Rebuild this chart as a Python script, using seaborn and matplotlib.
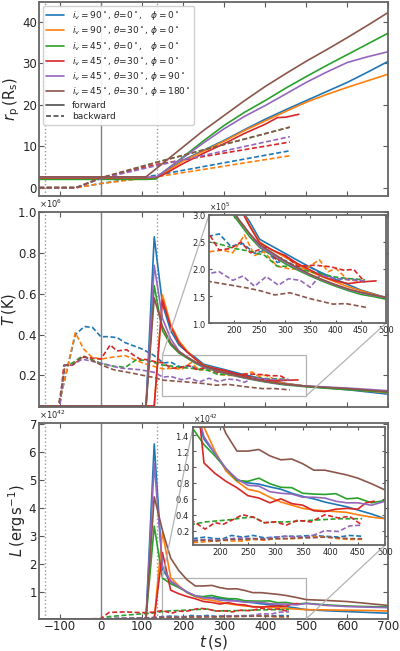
import pandas as pd
import matplotlib
matplotlib.use("Agg")
import matplotlib.pyplot as plt
import seaborn as sns
from matplotlib.lines import Line2D
from mpl_toolkits.axes_grid1.inset_locator import mark_inset

# ---- cases ----
case_labels = [
    r"$i_v=90^\circ$, $\theta$=0$^\circ$,   $\phi=0^\circ$",
    r"$i_v=90^\circ$, $\theta$=30$^\circ$, $\phi=0^\circ$",
    r"$i_v=45^\circ$, $\theta$=0$^\circ$,   $\phi=0^\circ$",
    r"$i_v=45^\circ$, $\theta$=30$^\circ$, $\phi=0^\circ$",
    r"$i_v=45^\circ$, $\theta$=30$^\circ$, $\phi=90^\circ$",
    r"$i_v=45^\circ$, $\theta$=30$^\circ$, $\phi=180^\circ$",
]
case_keys = ["blue", "orange", "green", "red", "purple", "brown"]

# ---- r_p (R_s) ----
t_rp_fw = [-150, 110, 135, 150, 200, 250, 300, 350, 400, 450, 500, 550, 600, 650, 700]
t_rp_fw_red = [-150, 110, 135, 150, 200, 250, 300, 350, 400, 430, 450, 482]
rp_fw_blue = [2.2, 2.2, 2.3, 3.4, 6.6, 9.0, 11.4, 14.0, 16.5, 18.8, 21.0, 23.2, 25.4, 27.9, 30.5]
rp_fw_orange = [2.3, 2.3, 2.4, 3.3, 6.4, 8.8, 11.2, 13.8, 16.1, 18.4, 20.6, 22.5, 24.2, 25.8, 27.4]
rp_fw_green = [2.0, 2.0, 2.1, 3.6, 7.4, 11.3, 15.0, 18.2, 21.0, 24.0, 26.8, 29.5, 32.1, 34.7, 37.3]
rp_fw_red = [2.4, 2.4, 2.5, 3.0, 5.8, 8.3, 10.6, 13.1, 15.3, 16.9, 17.0, 17.7]
rp_fw_purple = [2.5, 2.5, 2.6, 3.6, 7.2, 10.8, 14.2, 17.2, 19.8, 22.6, 25.4, 27.9, 30.2, 31.6, 32.8]
rp_fw_brown = [2.6, 2.6, 4.6, 5.8, 9.8, 13.8, 17.4, 21.0, 24.4, 27.5, 30.5, 33.3, 36.2, 39.2, 42.3]

t_rp_bw = [-150, -60, 0, 135, 460]
rp_bw_blue = [0, 0, 1.0, 3.0, 8.9]
rp_bw_orange = [0, 0, 1.0, 2.6, 7.7]
rp_bw_green = [0, 0, 2.3, 6.1, 14.6]
rp_bw_red = [0, 0, 2.3, 5.6, 11.0]
rp_bw_purple = [0, 0, 2.2, 5.3, 12.3]
rp_bw_brown = [0, 0, 2.4, 6.1, 14.6]

# ---- T (1e5 K) ----
t_T_fw = [-150, 110, 130, 150, 170, 190, 210, 230, 250, 275, 300, 325, 350, 375, 400, 425, 450, 475, 500, 600, 700]
t_T_fw_red = [-150, 110, 130, 150, 170, 190, 210, 230, 250, 275, 300, 325, 350, 375, 400, 425, 450, 480]
T_fw_blue = [0.5, 0.5, 8.8, 5.5, 4.2, 3.5, 3.15, 2.88, 2.55, 2.42, 2.29, 2.16, 2.03, 1.92, 1.81, 1.71, 1.61, 1.54, 1.47, 1.30, 1.08]
T_fw_orange = [0.5, 0.5, 0.5, 5.95, 4.5, 3.7, 3.2, 2.8, 2.5, 2.35, 2.22, 2.08, 1.95, 1.85, 1.76, 1.67, 1.60, 1.53, 1.47, 1.33, 1.15]
T_fw_green = [0.5, 0.5, 6.4, 4.2, 3.5, 3.1, 2.85, 2.6, 2.40, 2.25, 2.10, 1.98, 1.87, 1.77, 1.68, 1.60, 1.53, 1.49, 1.44, 1.30, 1.18]
T_fw_red = [0.5, 0.5, 0.5, 5.7, 4.4, 3.6, 3.15, 2.8, 2.48, 2.35, 2.25, 2.10, 1.98, 1.86, 1.78, 1.73, 1.76, 1.78]
T_fw_purple = [0.5, 0.5, 7.4, 4.8, 3.8, 3.2, 2.9, 2.65, 2.42, 2.27, 2.13, 2.00, 1.89, 1.79, 1.70, 1.62, 1.56, 1.51, 1.48, 1.38, 1.25]
T_fw_brown = [0.5, 0.5, 5.8, 4.4, 3.6, 3.15, 2.9, 2.66, 2.45, 2.30, 2.15, 2.02, 1.90, 1.80, 1.71, 1.63, 1.57, 1.52, 1.47, 1.35, 1.20]

t_T_bw_blue = [-150, -103, -62, -40, -20, 0, 20, 40, 60, 80, 100, 128, 152, 170, 193, 217, 240, 262, 285, 300, 323, 350, 370, 397, 423, 449, 458]
T_bw_blue = [0.5, 0.5, 4.0, 4.4, 4.35, 3.9, 3.9, 3.85, 3.6, 3.45, 3.3, 3.0, 2.61, 2.65, 2.42, 2.47, 2.29, 2.35, 2.12, 2.16, 2.04, 2.04, 1.92, 1.82, 1.82, 1.79, 1.76]
t_T_bw_orange = [-150, -103, -62, -42, -22, 0, 30, 60, 80, 103, 128, 151, 177, 197, 220, 240, 258, 285, 310, 340, 368, 385, 401, 424, 450, 458]
T_bw_orange = [0.5, 0.5, 4.1, 3.3, 2.9, 2.8, 2.9, 2.97, 2.8, 2.6, 2.45, 2.32, 2.35, 2.30, 2.63, 2.25, 2.32, 2.05, 2.0, 2.0, 2.17, 1.95, 2.01, 1.80, 1.77, 1.78]
t_T_bw_green = [-150, -100, -88, -70, -45, 0, 30, 60, 85, 110, 135, 150, 175, 200, 230, 260, 285, 310, 350, 400, 430, 458]
T_bw_green = [0.5, 0.5, 2.5, 2.6, 2.95, 2.6, 2.45, 2.4, 2.75, 2.75, 2.6, 2.51, 2.45, 2.38, 2.33, 2.25, 2.05, 2.05, 1.95, 1.85, 1.82, 1.80]
t_T_bw_red = [-150, -100, -90, -70, -42, 0, 23, 39, 63, 79, 95, 115, 136, 152, 170, 193, 213, 232, 262, 285, 300, 325, 359, 391, 415, 436, 454]
T_bw_red = [0.5, 0.5, 2.5, 2.5, 2.9, 2.8, 3.5, 3.2, 3.26, 3.0, 2.8, 2.77, 2.65, 2.62, 2.35, 2.38, 2.5, 2.3, 2.4, 2.15, 2.25, 2.05, 2.07, 2.04, 1.98, 1.99, 1.80]
t_T_bw_purple = [-150, -100, -88, -70, -45, 0, 47, 95, 130, 151, 170, 197, 217, 240, 263, 287, 307, 330, 350, 370, 400, 430, 458]
T_bw_purple = [0.5, 0.5, 2.5, 2.5, 2.8, 2.6, 2.36, 2.28, 2.15, 1.92, 1.95, 1.79, 1.87, 1.68, 1.86, 1.70, 1.82, 1.79, 1.66, 1.89, 1.82, 1.80, 1.78]
t_T_bw_brown = [-150, -103, -87, -70, -42, 0, 31, 79, 128, 150, 175, 200, 225, 250, 280, 310, 350, 395, 420, 460]
T_bw_brown = [0.5, 0.5, 2.5, 2.5, 2.95, 2.52, 2.28, 2.1, 1.9, 1.77, 1.73, 1.69, 1.65, 1.6, 1.52, 1.56, 1.45, 1.35, 1.36, 1.29]

# ---- L (1e42 erg/s) ----
t_L_fw = [-150, 110, 130, 150, 170, 190, 210, 230, 250, 270, 290, 310, 330, 350, 370, 390, 410, 430, 450, 475, 500, 550, 600, 650, 700]
t_L_fw_red = [-150, 110, 130, 150, 170, 190, 210, 230, 250, 270, 290, 310, 330, 350, 370, 390, 410, 430, 450, 465, 480]
L_fw_blue = [0.02, 0.02, 6.3, 1.8, 1.35, 1.17, 0.98, 0.84, 0.80, 0.785, 0.75, 0.72, 0.67, 0.63, 0.60, 0.56, 0.53, 0.50, 0.46, 0.41, 0.35, 0.31, 0.28, 0.25, 0.22]
L_fw_orange = [0.02, 0.02, 0.02, 3.15, 1.5, 1.2, 0.95, 0.82, 0.72, 0.69, 0.62, 0.56, 0.52, 0.48, 0.46, 0.45, 0.44, 0.43, 0.40, 0.37, 0.35, 0.34, 0.33, 0.32, 0.30]
L_fw_green = [0.02, 0.02, 3.35, 1.48, 1.28, 1.14, 0.98, 0.83, 0.82, 0.86, 0.79, 0.745, 0.74, 0.67, 0.66, 0.655, 0.665, 0.60, 0.61, 0.55, 0.58, 0.52, 0.48, 0.46, 0.45]
L_fw_red = [0.02, 0.02, 0.02, 2.4, 1.05, 0.92, 0.82, 0.74, 0.64, 0.61, 0.55, 0.60, 0.54, 0.52, 0.45, 0.44, 0.47, 0.48, 0.47, 0.55, 0.57]
L_fw_purple = [0.02, 0.02, 5.6, 1.9, 1.38, 1.17, 0.98, 0.85, 0.77, 0.76, 0.69, 0.67, 0.66, 0.62, 0.62, 0.61, 0.57, 0.55, 0.55, 0.52, 0.57, 0.50, 0.46, 0.44, 0.42]
L_fw_brown = [0.02, 0.02, 4.4, 3.2, 2.2, 1.75, 1.42, 1.2, 1.2, 1.22, 1.14, 1.09, 1.10, 1.04, 0.96, 0.96, 0.93, 0.90, 0.86, 0.79, 0.71, 0.68, 0.64, 0.57, 0.50]

t_L_bw = [-150, -50, 0, 20, 60, 100, 130, 150, 172, 190, 205, 220, 240, 260, 280, 300, 320, 340, 365, 390, 415, 435, 458]
L_bw_blue = [0.0, 0.0, 0.01, 0.03, 0.04, 0.05, 0.07, 0.10, 0.12, 0.10, 0.10, 0.14, 0.12, 0.14, 0.11, 0.12, 0.13, 0.13, 0.14, 0.13, 0.12, 0.14, 0.13]
L_bw_orange = [0.0, 0.0, 0.01, 0.02, 0.03, 0.03, 0.04, 0.05, 0.06, 0.07, 0.08, 0.07, 0.07, 0.09, 0.08, 0.10, 0.10, 0.10, 0.13, 0.12, 0.10, 0.09, 0.09]
L_bw_green = [0.0, 0.01, 0.02, 0.10, 0.15, 0.20, 0.23, 0.28, 0.31, 0.32, 0.33, 0.34, 0.36, 0.37, 0.30, 0.31, 0.31, 0.32, 0.33, 0.34, 0.35, 0.35, 0.35]
L_bw_red = [0.0, 0.01, 0.03, 0.25, 0.27, 0.24, 0.26, 0.32, 0.22, 0.30, 0.28, 0.33, 0.40, 0.37, 0.30, 0.31, 0.27, 0.33, 0.31, 0.40, 0.36, 0.38, 0.27]
L_bw_purple = [0.0, 0.0, 0.01, 0.03, 0.04, 0.05, 0.06, 0.08, 0.09, 0.08, 0.09, 0.10, 0.11, 0.10, 0.10, 0.12, 0.13, 0.12, 0.13, 0.20, 0.19, 0.26, 0.27]
L_bw_brown = [0.0, 0.0, 0.01, 0.02, 0.03, 0.04, 0.05, 0.07, 0.08, 0.07, 0.08, 0.09, 0.09, 0.10, 0.09, 0.10, 0.10, 0.11, 0.11, 0.12, 0.11, 0.10, 0.10]

T_SCALE = 1e5
L_SCALE = 1e42
t_marks = [-136, 136]


def long_frame(series, scale=1.0):
    rows = []
    for key, label in zip(case_keys, case_labels):
        for direction, (t, v) in series[key].items():
            for ti, vi in zip(t, v):
                rows.append({"t": ti, "v": vi * scale, "case": label, "dir": direction})
    return pd.DataFrame(rows)


rp_df = long_frame({
    "blue": {"forward": (t_rp_fw, rp_fw_blue), "backward": (t_rp_bw, rp_bw_blue)},
    "orange": {"forward": (t_rp_fw, rp_fw_orange), "backward": (t_rp_bw, rp_bw_orange)},
    "green": {"forward": (t_rp_fw, rp_fw_green), "backward": (t_rp_bw, rp_bw_green)},
    "red": {"forward": (t_rp_fw_red, rp_fw_red), "backward": (t_rp_bw, rp_bw_red)},
    "purple": {"forward": (t_rp_fw, rp_fw_purple), "backward": (t_rp_bw, rp_bw_purple)},
    "brown": {"forward": (t_rp_fw, rp_fw_brown), "backward": (t_rp_bw, rp_bw_brown)},
})
T_df = long_frame({
    "blue": {"forward": (t_T_fw, T_fw_blue), "backward": (t_T_bw_blue, T_bw_blue)},
    "orange": {"forward": (t_T_fw, T_fw_orange), "backward": (t_T_bw_orange, T_bw_orange)},
    "green": {"forward": (t_T_fw, T_fw_green), "backward": (t_T_bw_green, T_bw_green)},
    "red": {"forward": (t_T_fw_red, T_fw_red), "backward": (t_T_bw_red, T_bw_red)},
    "purple": {"forward": (t_T_fw, T_fw_purple), "backward": (t_T_bw_purple, T_bw_purple)},
    "brown": {"forward": (t_T_fw, T_fw_brown), "backward": (t_T_bw_brown, T_bw_brown)},
}, T_SCALE)
L_df = long_frame({
    "blue": {"forward": (t_L_fw, L_fw_blue), "backward": (t_L_bw, L_bw_blue)},
    "orange": {"forward": (t_L_fw, L_fw_orange), "backward": (t_L_bw, L_bw_orange)},
    "green": {"forward": (t_L_fw, L_fw_green), "backward": (t_L_bw, L_bw_green)},
    "red": {"forward": (t_L_fw_red, L_fw_red), "backward": (t_L_bw, L_bw_red)},
    "purple": {"forward": (t_L_fw, L_fw_purple), "backward": (t_L_bw, L_bw_purple)},
    "brown": {"forward": (t_L_fw, L_fw_brown), "backward": (t_L_bw, L_bw_brown)},
}, L_SCALE)

sns.set_theme(style="ticks")
plt.rcParams["font.family"] = ["DejaVu Sans"]
plt.rcParams["mathtext.fontset"] = "dejavusans"
colors = sns.color_palette("tab10", 6)


def draw(ax, df):
    sns.lineplot(data=df, x="t", y="v", hue="case", hue_order=case_labels,
                 palette=colors, style="dir", style_order=["forward", "backward"],
                 dashes={"forward": "", "backward": (3, 1.5)}, estimator=None,
                 sort=False, legend=False, lw=1.2, ax=ax)
    ax.set_xlabel("")
    ax.set_ylabel("")


def style_axes(ax, labelsize=8.5, length=3.5, pad=1.5):
    ax.tick_params(direction="in", top=True, right=True, length=length,
                   width=0.8, color="0.35", labelsize=labelsize, pad=pad)
    for s in ax.spines.values():
        s.set_color("0.4")
        s.set_linewidth(1.3)


fig = plt.figure(figsize=(4.0, 6.51), dpi=100)
ax1 = fig.add_axes([0.098, 0.699, 0.873, 0.298])
ax2 = fig.add_axes([0.098, 0.3748, 0.873, 0.299])
ax3 = fig.add_axes([0.098, 0.0492, 0.873, 0.301])

for ax, df in ((ax1, rp_df), (ax2, T_df), (ax3, L_df)):
    ax.axvline(0, color="0.5", lw=1.0, zorder=1)
    for tm in t_marks:
        ax.axvline(tm, color="0.6", lw=1.0, ls=":", zorder=1)
    draw(ax, df)
    ax.set_xlim(-150, 700)
    ax.set_xticks(range(-100, 701, 100))
    style_axes(ax)

ax1.set_ylim(-2, 44.8)
ax1.set_yticks([0, 10, 20, 30, 40])
ax2.set_ylim(0.045e6, 1.0e6)
ax2.set_yticks([0.2e6, 0.4e6, 0.6e6, 0.8e6, 1.0e6])
ax3.set_ylim(0.015e42, 7.05e42)
ax3.set_yticks([1e42, 2e42, 3e42, 4e42, 5e42, 6e42, 7e42])
ax1.tick_params(labelbottom=False)
ax2.tick_params(labelbottom=False)
ax3.tick_params(axis="x", pad=1)

for ax in (ax2, ax3):
    ax.ticklabel_format(axis="y", style="sci", scilimits=(0, 0), useMathText=True)
    ax.yaxis.get_offset_text().set_fontsize(6)

ax1.set_ylabel(r"$r_\mathrm{p}\,(\mathrm{R_s})$", fontsize=10.5)
ax2.set_ylabel(r"$T\,(\mathrm{K})$", fontsize=10.5)
ax3.set_ylabel(r"$L\,(\mathrm{erg\,s^{-1}})$", fontsize=10.5)
ax1.yaxis.set_label_coords(-0.05, 0.5)
ax2.yaxis.set_label_coords(-0.06, 0.5)
ax3.yaxis.set_label_coords(-0.032, 0.5)
ax3.set_xlabel(r"$t\,(\mathrm{s})$", fontsize=11)
ax3.xaxis.set_label_coords(0.5, -0.072)

# legend
handles = [Line2D([], [], color=c, lw=1.2) for c in colors]
handles += [Line2D([], [], color="0.3", lw=1.2),
            Line2D([], [], color="0.3", lw=1.2, ls=(0, (3, 1.5)))]
ax1.legend(handles, case_labels + ["forward", "backward"], loc="upper left",
           fontsize=6.5, labelspacing=0.25, borderaxespad=0.4, handlelength=2.0,
           framealpha=0.9, edgecolor="0.8")

# insets
axin2 = fig.add_axes([0.5225, 0.5038, 0.443, 0.166])
axin3 = fig.add_axes([0.4825, 0.1628, 0.4805, 0.181])
for axin, df in ((axin2, T_df), (axin3, L_df)):
    draw(axin, df)
    axin.set_xlim(150, 500)
    axin.set_xticks(range(200, 501, 50))
    style_axes(axin, labelsize=6, length=2.5, pad=2)
    axin.ticklabel_format(axis="y", style="sci", scilimits=(0, 0), useMathText=True)
    axin.yaxis.get_offset_text().set_fontsize(5.5)
axin2.set_ylim(1.0e5, 3.0e5)
axin2.set_yticks([1.0e5, 1.5e5, 2.0e5, 2.5e5, 3.0e5])
axin3.set_ylim(0.02e42, 1.5e42)
axin3.set_yticks([0.2e42, 0.4e42, 0.6e42, 0.8e42, 1.0e42, 1.2e42, 1.4e42])

mark_inset(ax2, axin2, loc1=2, loc2=4, fc="none", ec="0.7", lw=0.9)
mark_inset(ax3, axin3, loc1=2, loc2=4, fc="none", ec="0.7", lw=0.9)

fig.savefig("out.png", dpi=100)
